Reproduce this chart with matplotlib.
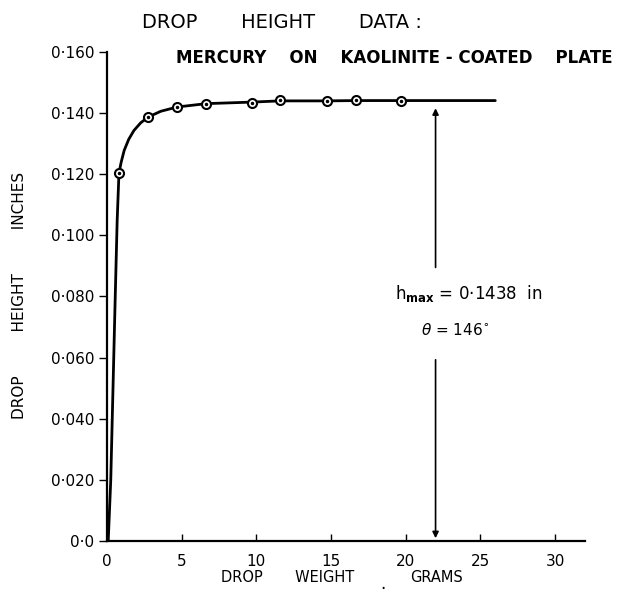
import matplotlib
matplotlib.use("Agg")
import matplotlib.pyplot as plt
from matplotlib.ticker import FixedLocator

# ---- data ----
weight_g = [0.8, 2.75, 4.7, 6.65, 9.7, 11.6, 14.7, 16.7, 19.7]
height_in = [0.1204, 0.1387, 0.1420, 0.1431, 0.1434, 0.1443, 0.1440, 0.1443, 0.1440]

curve_x = [0.08, 0.25, 0.4, 0.55, 0.68, 0.8, 0.95, 1.15, 1.45, 1.8, 2.25, 2.75, 3.6, 4.7,
           6.65, 9.7, 11.6, 14.7, 16.7, 19.7, 26.0]
curve_y = [0.0, 0.02, 0.05, 0.08, 0.105, 0.1204, 0.1240, 0.1278, 0.1314, 0.1343, 0.1368,
           0.1387, 0.1406, 0.1420, 0.1431, 0.1436, 0.1440, 0.1440, 0.1441, 0.1441, 0.1441]

x_ticks = [0, 5, 10, 15, 20, 25, 30]
y_ticks = [0.0, 0.02, 0.04, 0.06, 0.08, 0.10, 0.12, 0.14, 0.16]
y_tick_labels = ["0·0", "0·020", "0·040", "0·060", "0·080", "0·100", "0·120", "0·140", "0·160"]

h_max_x = 22.0
h_max = 0.1438

plt.rcParams['font.family'] = ['DejaVu Sans']

fig = plt.figure(figsize=(6.19, 5.94), dpi=100)
ax = fig.add_axes([0.1729, 0.0892, 0.772, 0.8233])
ax.set_xlim(0, 32)
ax.set_ylim(0, 0.16)

for s in ['top', 'right']:
    ax.spines[s].set_visible(False)
ax.spines['left'].set_linewidth(1.6)
ax.spines['bottom'].set_linewidth(1.6)

# curve and points
ax.plot(curve_x, curve_y, color='black', lw=2.0, solid_capstyle='round', zorder=2)
ax.plot(weight_g, height_in, linestyle='none', marker='o', ms=6.5, mfc='white',
        mec='black', mew=1.5, zorder=3)
ax.plot(weight_g, height_in, linestyle='none', marker='o', ms=1.5, color='black', zorder=4)

# arrow at h_max
ax.annotate('', xy=(h_max_x, 0.1425), xytext=(h_max_x, 0.0886),
            arrowprops=dict(arrowstyle='-|>', color='black', lw=1.2, mutation_scale=9))
ax.annotate('', xy=(h_max_x, 0.0), xytext=(h_max_x, 0.0602),
            arrowprops=dict(arrowstyle='-|>', color='black', lw=1.2, mutation_scale=9))
ax.text(24.2, 0.0810, r"h$_{\mathbf{max}}$ = 0·1438  in", ha='center', va='center', fontsize=12)
ax.text(23.3, 0.0690, r"$\theta$ = 146$^{\circ}$", ha='center', va='center', fontsize=11)

# ticks
ax.xaxis.set_major_locator(FixedLocator(x_ticks))
ax.set_xticklabels([str(v) for v in x_ticks], fontsize=11)
ax.tick_params(axis='x', direction='in', length=5, width=1.0, pad=9)
ax.yaxis.set_major_locator(FixedLocator(y_ticks))
ax.set_yticklabels(y_tick_labels, fontsize=11)
ax.tick_params(axis='y', direction='out', length=6, width=1.0, pad=3)

# labels
fig.text(0.032, 0.503, "DROP         HEIGHT         INCHES", rotation=90, ha='center', va='center', fontsize=11)
fig.text(0.465, 0.027, "DROP       WEIGHT", ha='center', va='center', fontsize=10.5)
fig.text(0.619, 0.016, ".", ha='center', va='center', fontsize=12)
fig.text(0.705, 0.027, "GRAMS", ha='center', va='center', fontsize=10.5)

fig.text(0.455, 0.962, "DROP       HEIGHT       DATA :", ha='center', va='center', fontsize=14)
fig.text(0.637, 0.902, "MERCURY    ON    KAOLINITE - COATED    PLATE", ha='center', va='center',
         fontsize=12, fontweight='bold')

fig.savefig("out.png", dpi=100)
